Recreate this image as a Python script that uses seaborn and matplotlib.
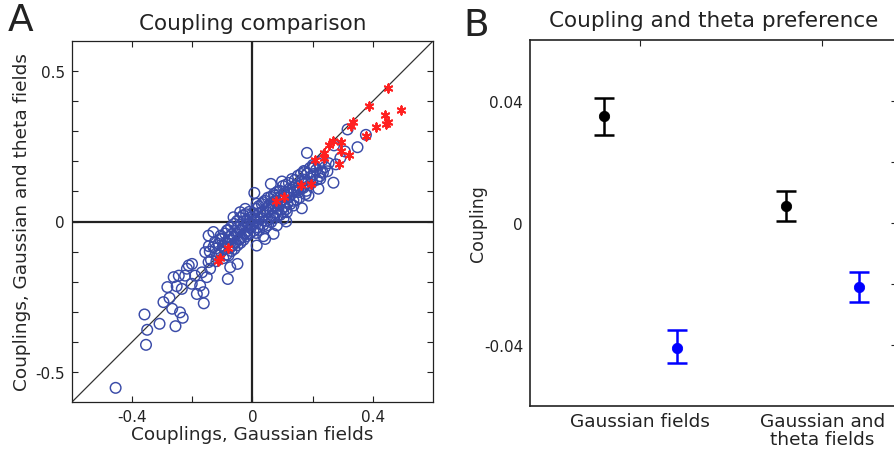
import matplotlib
matplotlib.use("Agg")
import matplotlib.pyplot as plt
import seaborn as sns

# Panel A: couplings, Gaussian-field model (x) vs Gaussian+theta model (y)
# scattered pairs away from the dense centre
blue_out_x = [-0.455, -0.354, -0.350, -0.359, -0.309, -0.256, -0.232, -0.241, -0.267, -0.296,
              -0.276, -0.283, -0.252, -0.235, -0.262, -0.245, -0.212, -0.201, -0.218, -0.224,
              -0.185, -0.162, -0.163, -0.174, -0.202, -0.191, -0.152, -0.168, -0.141, -0.146,
              -0.157, -0.146, -0.130, -0.082, -0.074, -0.050, -0.113, -0.130, -0.107, -0.085,
              -0.063, -0.041, -0.024, 0.006, 0.014, 0.036, 0.061, 0.075, 0.098, 0.112,
              0.114, 0.136, 0.164, 0.153, 0.186, 0.219, 0.225, 0.249, 0.269, 0.181,
              0.205, 0.227, 0.271, 0.277, 0.292, 0.307, 0.349, 0.377, 0.316, 0.253,
              0.172, 0.070, 0.042, 0.014, 0.036, 0.081, 0.103, -0.019, -0.041]
blue_out_y = [-0.553, -0.410, -0.360, -0.309, -0.340, -0.348, -0.320, -0.302, -0.290, -0.268,
              -0.254, -0.218, -0.215, -0.224, -0.185, -0.180, -0.146, -0.141, -0.157, -0.180,
              -0.241, -0.272, -0.235, -0.213, -0.207, -0.180, -0.185, -0.169, -0.157, -0.135,
              -0.102, -0.047, -0.035, -0.191, -0.152, -0.141, -0.074, -0.085, -0.058, -0.030,
              0.014, 0.031, 0.042, 0.095, 0.059, 0.064, 0.125, 0.086, 0.133, 0.000,
              0.031, 0.053, 0.044, 0.098, 0.086, 0.109, 0.142, 0.167, 0.129, 0.228,
              0.184, 0.164, 0.253, 0.190, 0.211, 0.233, 0.247, 0.288, 0.306, 0.194,
              0.164, -0.041, -0.058, -0.080, -0.049, -0.013, 0.009, -0.041, -0.058]

# dense band around the origin
blue_core_x = [-0.142, -0.138, -0.145,
               -0.122, -0.118, -0.125, -0.120,
               -0.101, -0.098, -0.104, -0.097, -0.106,
               -0.091, -0.088, -0.093, -0.086,
               -0.081, -0.078, -0.083, -0.076, -0.080,
               -0.071, -0.068, -0.073, -0.066, -0.070,
               -0.061, -0.058, -0.063, -0.056, -0.060,
               -0.051, -0.048, -0.053, -0.046, -0.050,
               -0.041, -0.038, -0.043, -0.036, -0.040,
               -0.031, -0.028, -0.033, -0.026, -0.030,
               -0.021, -0.018, -0.023, -0.016, -0.020,
               -0.011, -0.008, -0.013, -0.006, -0.010,
               0.001, 0.004, -0.002, 0.003,
               0.011, 0.014, 0.009, 0.016, 0.012,
               0.021, 0.024, 0.019, 0.026, 0.022,
               0.031, 0.034, 0.029, 0.036,
               0.041, 0.044, 0.039, 0.046, 0.042,
               0.051, 0.054, 0.049, 0.056, 0.052,
               0.061, 0.064, 0.059, 0.066, 0.062,
               0.071, 0.074, 0.069, 0.076, 0.072,
               0.081, 0.084, 0.079, 0.086, 0.082,
               0.091, 0.094, 0.089, 0.096, 0.092,
               0.101, 0.104, 0.099, 0.106, 0.102,
               0.111, 0.114, 0.109, 0.116, 0.112,
               0.121, 0.124, 0.119, 0.126,
               0.131, 0.134, 0.129, 0.136,
               0.141, 0.144, 0.139, 0.146,
               0.151, 0.154, 0.149, 0.156,
               0.161, 0.164, 0.159,
               0.171, 0.174, 0.169, 0.176,
               0.181, 0.184, 0.179,
               0.191, 0.194, 0.189,
               0.201, 0.204, 0.199,
               0.211, 0.214,
               0.221, 0.224,
               0.231, 0.234,
               0.241]
blue_core_y = [-0.100, -0.128, -0.082,
               -0.090, -0.112, -0.068, -0.132,
               -0.058, -0.081, -0.101, -0.122, -0.047,
               -0.040, -0.069, -0.092, -0.110,
               -0.028, -0.051, -0.072, -0.089, -0.113,
               -0.018, -0.042, -0.061, -0.079, -0.098,
               -0.008, -0.031, -0.052, -0.070, -0.091,
               0.002, -0.019, -0.041, -0.060, -0.079,
               0.012, -0.011, -0.029, -0.052, -0.071,
               0.021, 0.001, -0.022, -0.039, -0.061,
               0.024, 0.003, -0.012, -0.031, -0.049,
               0.032, 0.012, -0.009, -0.022, -0.041,
               0.029, 0.011, -0.012, -0.031,
               0.042, 0.019, 0.001, -0.019, -0.038,
               0.051, 0.029, 0.011, -0.009, -0.028,
               0.058, 0.032, 0.012, -0.011,
               0.069, 0.041, 0.021, 0.002, -0.021,
               0.079, 0.052, 0.031, 0.009, -0.012,
               0.082, 0.061, 0.039, 0.021, -0.002,
               0.091, 0.068, 0.049, 0.029, 0.011,
               0.098, 0.079, 0.061, 0.041, 0.019,
               0.102, 0.081, 0.058, 0.039, 0.022,
               0.118, 0.092, 0.071, 0.049, 0.031,
               0.122, 0.098, 0.081, 0.061, 0.041,
               0.128, 0.102, 0.079, 0.058,
               0.141, 0.112, 0.091, 0.069,
               0.138, 0.121, 0.098, 0.072,
               0.152, 0.118, 0.102, 0.079,
               0.158, 0.131, 0.109,
               0.168, 0.139, 0.112, 0.091,
               0.159, 0.128, 0.102,
               0.178, 0.149, 0.121,
               0.188, 0.158, 0.131,
               0.171, 0.139,
               0.192, 0.151,
               0.202, 0.162,
               0.181]

# pairs marked with red asterisks
red_x = [0.450, 0.386, 0.494, 0.439, 0.450, 0.445, 0.334, 0.327, 0.409, 0.376, 0.269, 0.295, 0.253,
         0.239, 0.295, 0.322, 0.239, 0.289, 0.208, 0.162, 0.194, 0.105, 0.079, -0.080, -0.107, -0.116]
red_y = [0.443, 0.384, 0.372, 0.355, 0.330, 0.325, 0.330, 0.317, 0.315, 0.284, 0.269, 0.264, 0.253,
         0.228, 0.235, 0.221, 0.212, 0.191, 0.206, 0.120, 0.125, 0.082, 0.067, -0.088, -0.121, -0.130]

# Panel B: mean coupling with error bars
groups = ["Gaussian fields", "Gaussian and\ntheta fields"]
black_mean = [0.035, 0.0055]
black_lo = [0.029, 0.0005]
black_hi = [0.041, 0.0105]
blue_mean = [-0.041, -0.021]
blue_lo = [-0.046, -0.026]
blue_hi = [-0.035, -0.016]

sns.set_style("white", {"xtick.direction": "in", "ytick.direction": "in"})
plt.rcParams["font.family"] = ["DejaVu Sans"]
plt.rcParams["axes.edgecolor"] = "#222222"
plt.rcParams["text.color"] = "#222222"
plt.rcParams["xtick.color"] = "#222222"
plt.rcParams["ytick.color"] = "#222222"

fig = plt.figure(figsize=(8.95, 4.56), dpi=100)

# ---- panel A ----
axA = fig.add_axes([72 / 895, 53 / 456, 361 / 895, 361 / 456])
axA.plot([-0.6, 0.6], [-0.6, 0.6], color="#333333", lw=0.9, zorder=1)
axA.axhline(0, color="#222222", lw=1.6, zorder=1)
axA.axvline(0, color="#222222", lw=1.6, zorder=1)
sns.scatterplot(x=blue_out_x + blue_core_x, y=blue_out_y + blue_core_y, ax=axA,
                marker="o", s=58, facecolor="none", edgecolor="#3a4ba8", linewidth=1.05, zorder=2)
sns.scatterplot(x=red_x, y=red_y, ax=axA, marker=(6, 2, 0), s=36, color="#ff2020",
                linewidth=1.4, zorder=3)
axA.set_xlim(-0.6, 0.6)
axA.set_ylim(-0.6, 0.6)
axA.set_xticks([-0.4, -0.2, 0, 0.2, 0.4])
axA.set_xticklabels(["-0.4", "", "0", "", "0.4"])
axA.set_yticks([-0.5, -0.4, -0.3, -0.2, -0.1, 0, 0.1, 0.2, 0.3, 0.4, 0.5])
axA.set_yticklabels(["-0.5", "", "", "", "", "0", "", "", "", "", "0.5"])
axA.tick_params(which="both", direction="in", length=4, width=0.8, labelsize=11,
                top=True, right=True, bottom=True, left=True, pad=5)
axA.set_xlabel("Couplings, Gaussian fields", fontsize=13.3, labelpad=1)
axA.set_ylabel("Couplings, Gaussian and theta fields", fontsize=13.3, labelpad=3)
axA.set_title("Coupling comparison", fontsize=15.5, pad=9)
for s in axA.spines.values():
    s.set_linewidth(0.9)

# ---- panel B ----
axB = fig.add_axes([530 / 895, 49 / 456, 367 / 895, 366 / 456])
xpos = [1, 2]
xb = [p - 0.2 for p in xpos]
xl = [p + 0.2 for p in xpos]
axB.errorbar(xb, black_mean,
             yerr=[[m - lo for m, lo in zip(black_mean, black_lo)],
                   [hi - m for m, hi in zip(black_mean, black_hi)]],
             fmt="none", ecolor="black", elinewidth=1.8, capsize=7, capthick=1.8, zorder=2)
axB.errorbar(xl, blue_mean,
             yerr=[[m - lo for m, lo in zip(blue_mean, blue_lo)],
                   [hi - m for m, hi in zip(blue_mean, blue_hi)]],
             fmt="none", ecolor="#0000ff", elinewidth=1.8, capsize=7, capthick=1.8, zorder=2)
sns.scatterplot(x=xb, y=black_mean, ax=axB, color="black", s=55, edgecolor="black", zorder=3)
sns.scatterplot(x=xl, y=blue_mean, ax=axB, color="#0000ff", s=55, edgecolor="#0000ff", zorder=3)
axB.set_xlim(0.395, 2.41)
axB.set_ylim(-0.06, 0.06)
axB.set_xticks(xpos)
axB.set_xticklabels(groups, linespacing=1.0)
axB.set_yticks([-0.04, -0.02, 0, 0.02, 0.04])
axB.set_yticklabels(["-0.04", "", "0", "", "0.04"])
axB.tick_params(which="both", direction="in", length=4, width=0.8, labelsize=11,
                top=True, right=True, pad=5)
axB.tick_params(axis="x", pad=4, labelsize=13.3)
axB.set_ylabel("Coupling", fontsize=12.5, labelpad=-2)
axB.set_title("Coupling and theta preference", fontsize=15.5, pad=10)
for s in axB.spines.values():
    s.set_linewidth(1.2)

fig.text(8 / 895, 1 - 31 / 456, "A", fontsize=27)
fig.text(463 / 895, 1 - 36 / 456, "B", fontsize=27)

fig.savefig("out.png", dpi=100)
